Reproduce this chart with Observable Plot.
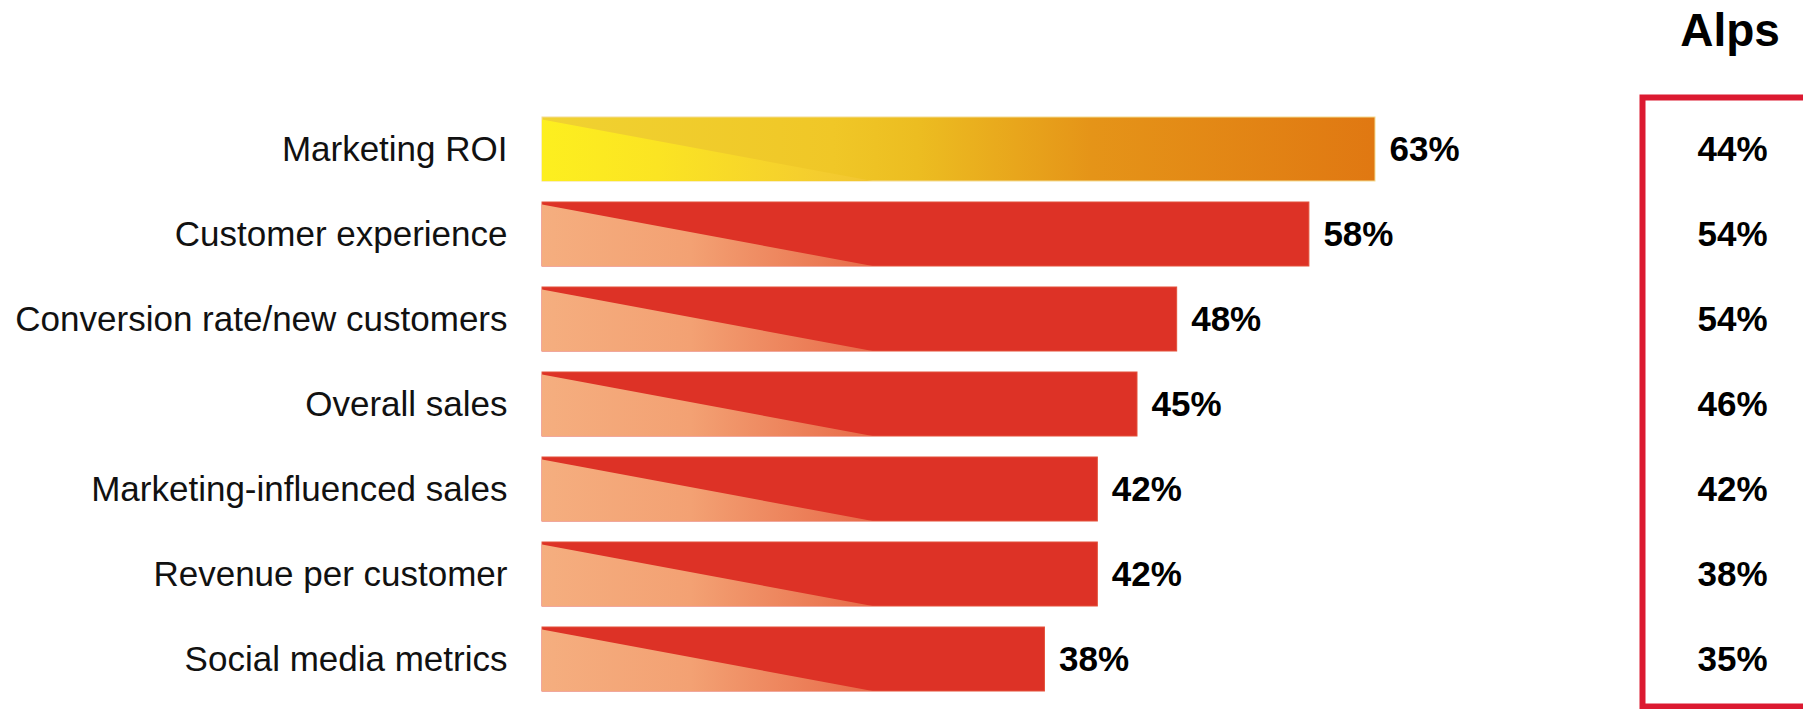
<!DOCTYPE html>
<html>
<head>
<meta charset="utf-8">
<script src="https://cdn.jsdelivr.net/npm/d3@7"></script>
<script src="https://cdn.jsdelivr.net/npm/@observablehq/plot@0.6"></script>
<style>
  html, body { margin: 0; padding: 0; background: #fff; overflow: hidden; }
  #chart svg { display: block; font-family: "Liberation Sans", Arial, Helvetica, sans-serif; }
</style>
</head>
<body>
<div id="chart"></div>
<script>
// ---- data ----
const categories = [
  "Marketing ROI",
  "Customer experience",
  "Conversion rate/new customers",
  "Overall sales",
  "Marketing-influenced sales",
  "Revenue per customer",
  "Social media metrics"
];
const globalValues = [63, 58, 48, 45, 42, 42, 38];
const alpsValues = [44, 54, 54, 46, 42, 38, 35];
const columnTitle = "Alps";

const rows = categories.map((c, i) => ({category: c, value: globalValues[i], alps: alpsValues[i], highlight: i === 0}));

// ---- styles ----
const wedge = 25; // width of the light wedge, in x units
const red = "#dd3226";

function defsMark() {
  const defs = d3.create("svg:defs");
  const addGrad = (id, stops) => {
    const g = defs.append("linearGradient").attr("id", id).attr("x1", 0).attr("x2", 1).attr("y1", 0).attr("y2", 0);
    for (const [o, c] of stops) g.append("stop").attr("offset", o).attr("stop-color", c);
  };
  addGrad("roiBar", [[0, "#f0d231"], [0.35, "#f0c727"], [0.45, "#ecbd21"], [0.66, "#e59418"], [1, "#e07812"]]);
  addGrad("roiWedge", [[0, "#fdef1f"], [0.35, "#fbe423"], [1, "#f2c532"]]);
  addGrad("redWedge", [[0, "#f5ae7f"], [0.45, "#f3a173"], [1, "#e86b49"]]);
  return defs.node();
}

function wedgeMark(index, scales) {
  const {x, y} = scales;
  const bw = typeof y.bandwidth === "function" ? y.bandwidth() : y.bandwidth;
  const g = d3.create("svg:g");
  for (const d of rows) {
    const top = y(d.category);
    const x0 = x(0), x1 = x(wedge);
    g.append("polygon")
      .attr("points", `${x0},${top + 2.5} ${x0},${top + bw} ${x1},${top + bw}`)
      .attr("fill", d.highlight ? "url(#roiWedge)" : "url(#redWedge)");
  }
  return g.node();
}

const chart = Plot.plot({
  width: 1803,
  height: 709,
  marginLeft: 542,
  marginRight: 0,
  marginTop: 0,
  marginBottom: 0,
  style: {fontFamily: "'Liberation Sans', Arial, Helvetica, sans-serif", background: "#fff", overflow: "hidden"},
  x: {domain: [0, 63], range: [542, 1375], axis: null},
  y: {domain: categories, range: [106.5, 701.5], paddingInner: 0.247, paddingOuter: 0.1235, axis: null},
  marks: [
    defsMark,
    Plot.barX(rows.filter(d => d.highlight), {x: "value", y: "category", fill: "url(#roiBar)", stroke: "#f4dc92", strokeWidth: 1}),
    Plot.barX(rows.filter(d => !d.highlight), {x: "value", y: "category", fill: red, stroke: "#e4513a", strokeWidth: 1}),
    wedgeMark,
    Plot.text(rows, {x: 0, y: "category", text: "category", textAnchor: "end", dx: -35, fontSize: 35, fill: "#111"}),
    Plot.text(rows, {x: "value", y: "category", text: d => `${d.value}%`, textAnchor: "start", dx: 14, fontSize: 35, fontWeight: "bold", fill: "#000"}),
    Plot.text(rows, {y: "category", frameAnchor: "right", text: d => `${d.alps}%`, textAnchor: "middle", dx: -71, fontSize: 35, fontWeight: "bold", fill: "#000"}),
    Plot.text([columnTitle], {frameAnchor: "top-right", lineAnchor: "top", text: d => d, textAnchor: "middle", dx: -73.5, dy: 13, fontSize: 46, fontWeight: "bold", fill: "#000"}),
    Plot.frame({stroke: "#dc1a31", strokeWidth: 6, insetLeft: 1100, insetTop: 97, insetBottom: 3, insetRight: -10})
  ]
});
document.getElementById("chart").appendChild(chart);
</script>
</body>
</html>
